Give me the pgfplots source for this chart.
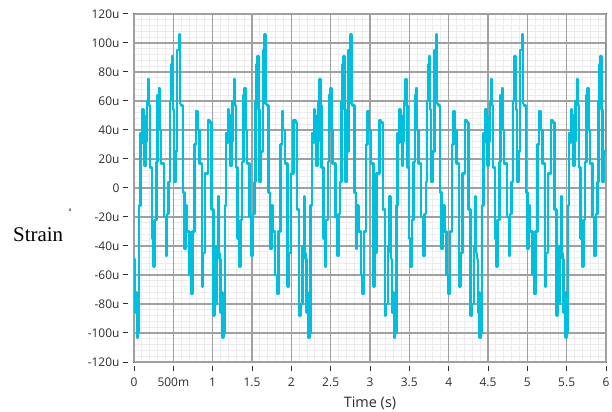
\documentclass[border=0pt]{standalone}
\usepackage{pgfplots}
\pgfplotsset{compat=1.18}
\usepackage{fontspec}
\setmainfont{Open Sans}
\newfontfamily\serifface{Liberation Serif}
\definecolor{sig}{RGB}{0,191,222}
\definecolor{majgrid}{RGB}{160,160,160}
\definecolor{mingrid}{RGB}{236,236,236}
\definecolor{frame}{RGB}{95,95,95}
\definecolor{ticktext}{RGB}{45,45,45}
\begin{document}
\begin{tikzpicture}
\path[use as bounding box] (0,0) rectangle (612bp,412bp);
\begin{axis}[
  at={(134bp,50bp)}, anchor=south west,
  scale only axis, width=472bp, height=348bp,
  xmin=0, xmax=6, ymin=-120, ymax=120,
  xtick={0,0.5,1,1.5,2,2.5,3,3.5,4,4.5,5,5.5,6},
  xticklabels={0,500m,1,1.5,2,2.5,3,3.5,4,4.5,5,5.5,6},
  ytick={-120,-100,-80,-60,-40,-20,0,20,40,60,80,100,120},
  yticklabels={\mbox{-120u},\mbox{-100u},\mbox{-80u},\mbox{-60u},\mbox{-40u},\mbox{-20u},\mbox{0},\mbox{20u},\mbox{40u},\mbox{60u},\mbox{80u},\mbox{100u},\mbox{120u}},
  minor x tick num=4, minor y tick num=4,
  xtick pos=bottom, ytick pos=left,
  tick align=outside,
  major tick length=5bp, minor tick length=0bp,
  xtick style={yshift=-4bp, line width=1bp, color=ticktext},
  ytick style={xshift=-6bp, line width=1bp, color=ticktext},
  xticklabel shift=7.4bp, yticklabel shift=6bp,
  ticklabel style={font=\fontsize{12}{14}\selectfont, text=ticktext},
  grid=minor,
  minor grid style={mingrid, line width=1bp},
  extra x ticks={0,0.5,1,1.5,2,2.5,3,3.5,4,4.5,5,5.5,6},
  extra y ticks={-120,-100,-80,-60,-40,-20,0,20,40,60,80,100,120},
  extra x tick labels={}, extra y tick labels={},
  extra tick style={grid=major, major tick length=0pt, major grid style={majgrid, line width=1.2bp}},
  axis line style={frame, line width=1.5bp},
  xlabel={Time (s)},
  xlabel style={at={(axis description cs:0.5,0)}, anchor=base, yshift=-45bp, font=\fontsize{14.5}{16}\selectfont, text=ticktext},
  ylabel={Strain},
  ylabel style={rotate=-90, at={(axis description cs:0,0)}, anchor=base west, inner sep=0pt, xshift=-121bp, yshift=120bp, font=\serifface\fontsize{21}{24}\selectfont, text=black},
  clip=true,
]
\addplot[sig, line width=2.5bp, line join=round, mark=none, const plot] table[x=t, y=v] {
t v
0.000 -49
0.012 -86
0.020 -72
0.035 -103
0.050 -100
0.065 -12
0.080 38
0.092 31
0.105 54
0.118 50
0.135 15
0.150 32
0.165 60
0.180 75
0.192 57
0.205 14
0.228 -35
0.245 -54
0.262 -22
0.285 18
0.300 64
0.315 69
0.328 40
0.345 17
0.380 -20
0.405 -47
0.420 -18
0.440 4
0.455 60
0.470 85
0.480 91
0.493 54
0.508 4
0.525 25
0.548 95
0.570 106
0.583 58
0.600 57
0.620 -3
0.640 -42
0.655 -12
0.675 -30
0.705 -60
0.725 -73
0.745 -30
0.770 30
0.790 53
0.805 40
0.830 17
0.862 -68
0.880 -45
0.905 10
0.940 47
0.960 45
0.985 -15
1.010 -88
1.025 -80
1.050 -40
1.068 -6
1.080 -45
1.090 -49
1.102 -86
1.110 -72
1.125 -103
1.140 -100
1.155 -12
1.170 38
1.182 31
1.195 54
1.208 50
1.225 15
1.240 32
1.255 60
1.270 75
1.282 57
1.295 14
1.318 -35
1.335 -54
1.352 -22
1.375 18
1.390 64
1.405 69
1.418 40
1.435 17
1.470 -20
1.495 -47
1.510 -18
1.530 4
1.545 60
1.560 85
1.570 91
1.583 54
1.598 4
1.615 25
1.638 95
1.660 106
1.673 58
1.690 57
1.710 -3
1.730 -42
1.745 -12
1.765 -30
1.795 -60
1.815 -73
1.835 -30
1.860 30
1.880 53
1.895 40
1.920 17
1.952 -68
1.970 -45
1.995 10
2.030 47
2.050 45
2.075 -15
2.100 -88
2.115 -80
2.140 -40
2.158 -6
2.170 -45
2.180 -49
2.192 -86
2.200 -72
2.215 -103
2.230 -100
2.245 -12
2.260 38
2.272 31
2.285 54
2.298 50
2.315 15
2.330 32
2.345 60
2.360 75
2.372 57
2.385 14
2.408 -35
2.425 -54
2.442 -22
2.465 18
2.480 64
2.495 69
2.508 40
2.525 17
2.560 -20
2.585 -47
2.600 -18
2.620 4
2.635 60
2.650 85
2.660 91
2.673 54
2.688 4
2.705 25
2.728 95
2.750 106
2.763 58
2.780 57
2.800 -3
2.820 -42
2.835 -12
2.855 -30
2.885 -60
2.905 -73
2.925 -30
2.950 30
2.970 53
2.985 40
3.010 17
3.042 -68
3.060 -45
3.085 10
3.120 47
3.140 45
3.165 -15
3.190 -88
3.205 -80
3.230 -40
3.248 -6
3.260 -45
3.270 -49
3.282 -86
3.290 -72
3.305 -103
3.320 -100
3.335 -12
3.350 38
3.362 31
3.375 54
3.388 50
3.405 15
3.420 32
3.435 60
3.450 75
3.462 57
3.475 14
3.498 -35
3.515 -54
3.532 -22
3.555 18
3.570 64
3.585 69
3.598 40
3.615 17
3.650 -20
3.675 -47
3.690 -18
3.710 4
3.725 60
3.740 85
3.750 91
3.763 54
3.778 4
3.795 25
3.818 95
3.840 106
3.853 58
3.870 57
3.890 -3
3.910 -42
3.925 -12
3.945 -30
3.975 -60
3.995 -73
4.015 -30
4.040 30
4.060 53
4.075 40
4.100 17
4.132 -68
4.150 -45
4.175 10
4.210 47
4.230 45
4.255 -15
4.280 -88
4.295 -80
4.320 -40
4.338 -6
4.350 -45
4.360 -49
4.372 -86
4.380 -72
4.395 -103
4.410 -100
4.425 -12
4.440 38
4.452 31
4.465 54
4.478 50
4.495 15
4.510 32
4.525 60
4.540 75
4.552 57
4.565 14
4.588 -35
4.605 -54
4.622 -22
4.645 18
4.660 64
4.675 69
4.688 40
4.705 17
4.740 -20
4.765 -47
4.780 -18
4.800 4
4.815 60
4.830 85
4.840 91
4.853 54
4.868 4
4.885 25
4.908 95
4.930 106
4.943 58
4.960 57
4.980 -3
5.000 -42
5.015 -12
5.035 -30
5.065 -60
5.085 -73
5.105 -30
5.130 30
5.150 53
5.165 40
5.190 17
5.222 -68
5.240 -45
5.265 10
5.300 47
5.320 45
5.345 -15
5.370 -88
5.385 -80
5.410 -40
5.428 -6
5.440 -45
5.450 -49
5.462 -86
5.470 -72
5.485 -103
5.500 -100
5.515 -12
5.530 38
5.542 31
5.555 54
5.568 50
5.585 15
5.600 32
5.615 60
5.630 75
5.642 57
5.655 14
5.678 -35
5.695 -54
5.712 -22
5.735 18
5.750 64
5.765 69
5.778 40
5.795 17
5.830 -20
5.855 -47
5.870 -18
5.890 4
5.905 60
5.920 85
5.930 91
5.943 54
5.958 4
5.975 25
6.000 100
};
\end{axis}
\node[font=\fontsize{5}{5}\selectfont, inner sep=0pt] at (70bp,202bp) {a};
\end{tikzpicture}
\end{document}
